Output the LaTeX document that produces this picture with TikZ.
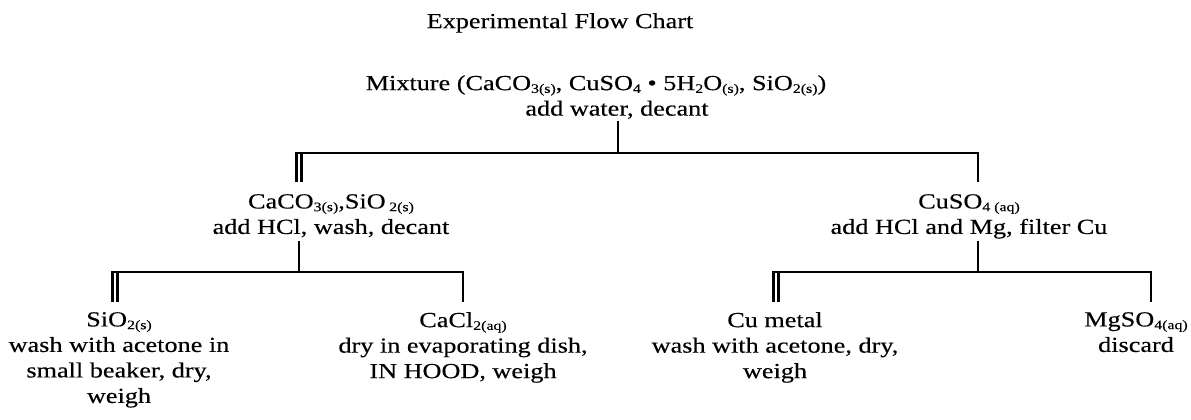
\documentclass[tikz,border=0pt]{standalone}
\usepackage{fontspec}
\setmainfont{Liberation Serif}[FakeStretch=1.22, FakeBold=0.3]
% small lowered index for chemical formulas
\newcommand\chemsub[1]{\raisebox{-0.28ex}{\fontsize{13}{13}\selectfont #1}}
\tikzset{
  lbl/.style={align=center, inner sep=0pt, font=\fontsize{21.5}{25.5}\selectfont, anchor=north},
  link/.style={line width=2.7pt},
  dbl/.style={double, line width=2.5pt, double distance=2.4pt},
}
\begin{document}
\begin{tikzpicture}[x=1pt,y=-1pt]
\useasboundingbox (0,0) rectangle (1191,420);

% text blocks
\node[lbl] (title) at (560,13) {Experimental Flow Chart};
\node[lbl] (mix) at (596,75) {Mixture (CaCO\chemsub{3(s)}, CuSO\chemsub{4} • 5H\chemsub{2}O\chemsub{(s)}, SiO\chemsub{2(s)})};
\node[lbl] (mixstep) at (617,100.5) {add water, decant};
\node[lbl] (cs) at (331,194) {CaCO\chemsub{3(s)},SiO\,\chemsub{2(s)}\\add HCl, wash, decant};
\node[lbl] (cu) at (969,194) {CuSO\chemsub{4 (aq)}\\add HCl and Mg, filter Cu};
\node[lbl] (sio) at (119,312) {SiO\chemsub{2(s)}\\wash with acetone in\\small beaker, dry,\\weigh};
\node[lbl] (cacl) at (463,312) {CaCl\chemsub{2(aq)}\\dry in evaporating dish,\\IN HOOD, weigh};
\node[lbl] (cum) at (775,312) {Cu metal\\wash with acetone, dry,\\weigh};
\node[lbl] (mgs) at (1136,312) {MgSO\chemsub{4(aq)}\\discard};

% junction points
\coordinate (m0) at (618,121);  \coordinate (j0) at (618,153);
\coordinate (a1) at (299,153);  \coordinate (a1b) at (299,182);
\coordinate (b1) at (978,153);  \coordinate (b1b) at (978,182);
\coordinate (m1) at (299,241);  \coordinate (j1) at (299,272);
\coordinate (a2) at (115,272);  \coordinate (a2b) at (115,302);
\coordinate (b2) at (463,272);  \coordinate (b2b) at (463,302);
\coordinate (m2) at (978,241);  \coordinate (j2) at (978,272);
\coordinate (a3) at (776,272);  \coordinate (a3b) at (776,302);
\coordinate (b3) at (1151,272); \coordinate (b3b) at (1151,302);

% solid-product branches (double lines)
\draw[dbl] (a1b) -- (a1);
\draw[dbl] (a2b) -- (a2);
\draw[dbl] (a3b) -- (a3);

% brackets
\draw[link] (m0) -- (j0);
\draw[link] ([xshift=-3.7pt]a1) -- (b1) -- (b1b);
\draw[link] (m1) -- (j1);
\draw[link] ([xshift=-3.7pt]a2) -- (b2) -- (b2b);
\draw[link] (m2) -- (j2);
\draw[link] ([xshift=-3.7pt]a3) -- (b3) -- (b3b);
\end{tikzpicture}
\end{document}
